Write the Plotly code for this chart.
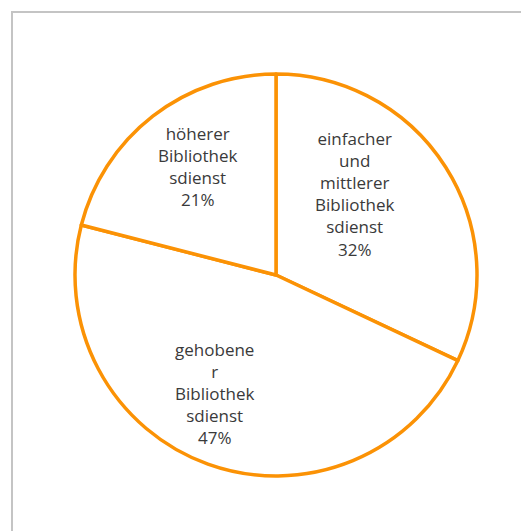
import plotly.graph_objects as go

# slices, clockwise from 12 o'clock
labels = [
    "einfacher<br>und<br>mittlerer<br>Bibliothek<br>sdienst",
    "gehobene<br>r<br>Bibliothek<br>sdienst",
    "höherer<br>Bibliothek<br>sdienst",
]
values = [32, 47, 21]

W, H = 529, 531
OFF = 8  # page body margin

# label centres in page pixels
label_px = [(355, 194), (215, 393), (198, 166)]

orange = "#fb9205"
cx, cy, r = 276 - OFF, 275 - OFF, 201

fig = go.Figure()
fig.add_trace(go.Pie(
    labels=labels,
    values=values,
    sort=False,
    direction="clockwise",
    rotation=0,
    textinfo="none",
    marker=dict(colors=["white"] * len(values), line=dict(color=orange, width=3.5)),
    domain=dict(x=[(cx - r) / W, (cx + r) / W],
                y=[(H - cy - r) / H, (H - cy + r) / H]),
    showlegend=False,
))

total = sum(values)
for lab, v, (px, py) in zip(labels, values, label_px):
    fig.add_annotation(
        x=(px - OFF) / W, y=1 - (py - OFF) / H, xref="paper", yref="paper",
        xanchor="center", yanchor="middle",
        text=f"{lab}<br>{round(100 * v / total)}%",
        showarrow=False,
        font=dict(family="Open Sans", size=17, color="#3a3a3a"),
        align="center",
    )

# chart frame (only left and top edge visible)
fig.add_shape(type="rect", xref="paper", yref="paper",
              x0=(12 - OFF) / W, x1=1.2, y0=-0.2, y1=1 - (12 - OFF) / H,
              line=dict(color="#c4c4c4", width=2), fillcolor="rgba(0,0,0,0)")

fig.update_layout(
    width=W, height=H,
    margin=dict(l=0, r=0, t=0, b=0),
    paper_bgcolor="white",
    plot_bgcolor="white",
)

fig.write_html("out.html")
